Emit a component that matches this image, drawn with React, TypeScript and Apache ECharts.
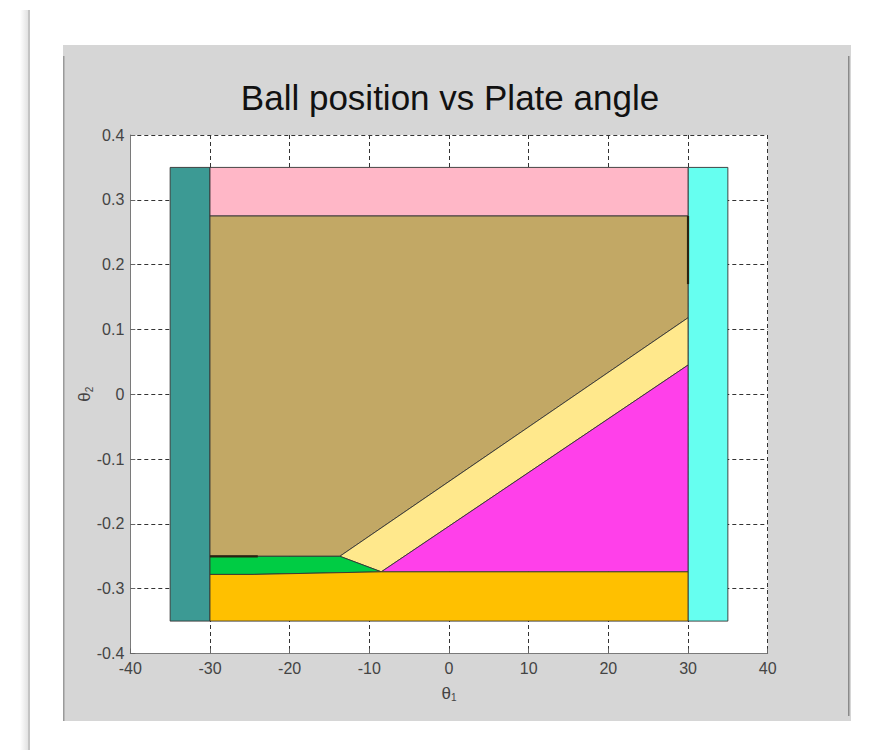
import React, { useEffect, useRef } from "react";
import * as echarts from "echarts";

// Axis ticks
const xTicks = [-40, -30, -20, -10, 0, 10, 20, 30, 40];
const yTicks = [-0.4, -0.3, -0.2, -0.1, 0, 0.1, 0.2, 0.3, 0.4];

// Regions (theta1, theta2) vertices
const tealRegion = [[-35, -0.35], [-30, -0.35], [-30, 0.35], [-35, 0.35]];
const cyanRegion = [[30, -0.35], [35, -0.35], [35, 0.35], [30, 0.35]];
const pinkRegion = [[-30, 0.275], [30, 0.275], [30, 0.35], [-30, 0.35]];
const tanRegion = [[-30, -0.25], [-13.7, -0.25], [30, 0.118], [30, 0.275], [-30, 0.275]];
const yellowRegion = [[-13.7, -0.25], [-8.5, -0.274], [30, 0.045], [30, 0.118]];
const magentaRegion = [[-8.5, -0.274], [30, -0.274], [30, 0.045]];
const greenRegion = [[-30, -0.278], [-24.6, -0.278], [-8.5, -0.274], [-13.7, -0.25], [-30, -0.25]];
const orangeRegion = [[-30, -0.35], [30, -0.35], [30, -0.274], [-8.5, -0.274], [-24.6, -0.278], [-30, -0.278]];

const regions = [
  { name: "teal", pts: tealRegion, color: "#3c9a94" },
  { name: "cyan", pts: cyanRegion, color: "#66fff0" },
  { name: "pink", pts: pinkRegion, color: "#ffb7c7" },
  { name: "tan", pts: tanRegion, color: "#c2a865" },
  { name: "yellow", pts: yellowRegion, color: "#ffe88c" },
  { name: "magenta", pts: magentaRegion, color: "#ff40ea" },
  { name: "green", pts: greenRegion, color: "#00cc44" },
  { name: "orange", pts: orangeRegion, color: "#ffc000" },
];

// Dark edge segments
const darkEdgeA = [[-30, -0.25], [-24, -0.25]];
const darkEdgeB = [[30, 0.275], [30, 0.17]];

const fmt = (v: number) => {
  const r = Math.round(v * 10) / 10;
  return String(r);
};

export default function App() {
  const ref = useRef<HTMLDivElement>(null);
  useEffect(() => {
    if (!ref.current) return;
    const chart = echarts.init(ref.current, undefined, { renderer: "svg" });

    const polySeries = regions.map((r) => ({
      type: "custom",
      name: r.name,
      coordinateSystem: "cartesian2d",
      data: r.pts,
      z: 3,
      renderItem: (params: any, api: any) => {
        if (params.dataIndex !== 0) return null;
        const points = r.pts.map((p) => api.coord(p));
        return {
          type: "polygon",
          shape: { points },
          style: { fill: r.color, stroke: "#333", lineWidth: 0.9 },
        };
      },
    }));

    const edgeSeries = [darkEdgeA, darkEdgeB].map((seg, i) => ({
      type: "custom",
      name: "edge" + i,
      coordinateSystem: "cartesian2d",
      data: seg,
      z: 4,
      renderItem: (params: any, api: any) => {
        if (params.dataIndex !== 0) return null;
        return {
          type: "polyline",
          shape: { points: seg.map((p) => api.coord(p)) },
          style: { stroke: "#2a2210", lineWidth: 2.2, fill: null },
        };
      },
    }));

    const axisLabelStyle = {
      color: "#444",
      fontSize: 16,
      fontFamily: "Liberation Sans, Arial, sans-serif",
    };

    const nameStyle = {
      color: "#444",
      fontSize: 17,
      fontFamily: "Liberation Sans, Arial, sans-serif",
      rich: {
        s: { fontSize: 10, color: "#444", padding: [9, 0, 0, 0] },
      },
    };

    chart.setOption({
      animation: false,
      backgroundColor: "#ffffff",
      title: {
        text: "Ball position vs Plate angle",
        left: 445,
        top: 75,
        textAlign: "center",
        textStyle: {
          fontSize: 35,
          fontWeight: "normal",
          color: "#111",
          fontFamily: "Liberation Sans, Arial, sans-serif",
        },
      },
      graphic: [
        {
          type: "rect",
          z: -10,
          shape: { x: 20, y: 10, width: 8, height: 740 },
          style: {
            fill: new echarts.graphic.LinearGradient(0, 0, 1, 0, [
              { offset: 0, color: "#ffffff" },
              { offset: 1, color: "#e2e2e2" },
            ]),
          },
        },
        {
          type: "rect",
          z: -10,
          shape: { x: 28, y: 10, width: 2, height: 740 },
          style: { fill: "#c4c4c4" },
        },
        {
          type: "rect",
          z: -10,
          shape: { x: 63, y: 45, width: 788, height: 676 },
          style: { fill: "#d6d6d6" },
        },
        {
          type: "rect",
          z: -9,
          shape: { x: 63, y: 56, width: 1.5, height: 665 },
          style: { fill: "#9a9a9a" },
        },
        {
          type: "rect",
          z: -9,
          shape: { x: 848, y: 56, width: 1.5, height: 660 },
          style: { fill: "#8a8a8a" },
        },
      ],
      grid: {
        left: 130.3,
        right: 869 - 767.7,
        top: 135,
        bottom: 750 - 653.5,
        show: true,
        backgroundColor: "#ffffff",
        borderWidth: 0,
        z: 0,
      },
      xAxis: {
        type: "value",
        min: xTicks[0],
        max: xTicks[xTicks.length - 1],
        interval: 10,
        name: "θ{s|1}",
        nameLocation: "middle",
        nameGap: 30,
        nameMoveOverlap: false,
        nameTextStyle: nameStyle,
        axisLine: { show: true, onZero: false, lineStyle: { color: "#7a7a7a", width: 1 } },
        axisTick: { show: true, inside: true, length: 5, lineStyle: { color: "#666" } },
        axisLabel: { ...axisLabelStyle, margin: 7, formatter: fmt },
        splitLine: {
          show: true,
          lineStyle: { color: "#333", type: [4, 3], width: 1 },
        },
      },
      yAxis: {
        type: "value",
        min: yTicks[0],
        max: yTicks[yTicks.length - 1],
        interval: 0.1,
        name: "θ{s|2}",
        nameLocation: "middle",
        nameRotate: 90,
        nameGap: 36,
        nameMoveOverlap: false,
        nameTextStyle: nameStyle,
        axisLine: { show: true, onZero: false, lineStyle: { color: "#7a7a7a", width: 1 } },
        axisTick: { show: true, inside: true, length: 5, lineStyle: { color: "#666" } },
        axisLabel: { ...axisLabelStyle, margin: 6, formatter: fmt },
        splitLine: {
          show: true,
          lineStyle: { color: "#333", type: [4, 3], width: 1 },
        },
      },
      series: [...polySeries, ...edgeSeries],
    });
    return () => chart.dispose();
  }, []);
  return (
    <div
      ref={ref}
      style={{ position: "fixed", left: 0, top: 0, width: 869, height: 750 }}
    />
  );
}
